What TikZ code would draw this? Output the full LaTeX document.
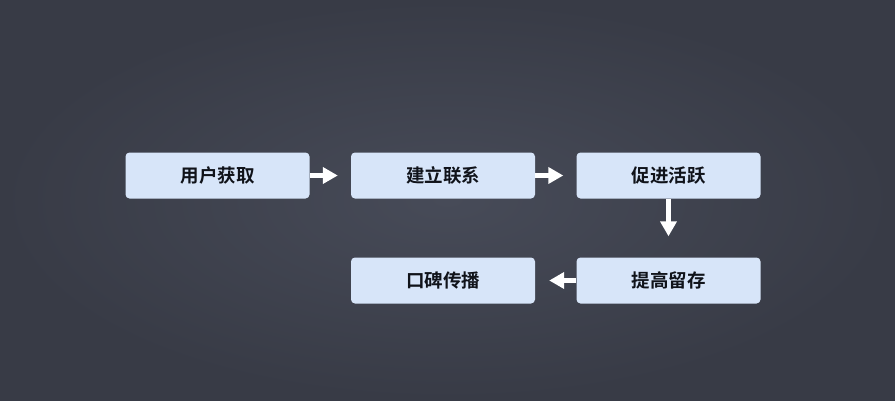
\documentclass[tikz,border=0pt]{standalone}
\usepackage{fontspec}
\newfontfamily\cjk{Noto Sans CJK SC}[BoldFont={Noto Sans CJK SC Bold}]
\usetikzlibrary{arrows.meta}
\definecolor{boardlight}{HTML}{474B58}
\definecolor{boarddark}{HTML}{383B46}
\definecolor{boxfill}{HTML}{D7E5F9}
\definecolor{txt}{HTML}{10131A}
\begin{document}
\begin{tikzpicture}[x=1pt,y=-1pt,
  stagebox/.style={fill=boxfill, rounded corners=4pt, minimum width=184pt, minimum height=46pt, inner sep=0pt, font=\cjk\bfseries\fontsize{18.5}{20}\selectfont, text=txt},
  flow/.style={draw=white, line width=5pt, -{Triangle[length=15pt,width=16pt]}}]
\path[use as bounding box, inner color=boardlight, outer color=boarddark] (0,0) rectangle (895,400);
\node[stagebox] (a) at (217.5,175.5) {用户获取};
\node[stagebox] (b) at (443,175.5) {建立联系};
\node[stagebox] (c) at (668.5,175.5) {促进活跃};
\node[stagebox] (d) at (668.5,280.5) {提高留存};
\node[stagebox] (e) at (443,280.5) {口碑传播};
\draw[flow, shorten >=13pt] (a.east) -- (b.west);
\draw[flow, shorten >=13pt] (b.east) -- (c.west);
\draw[flow, shorten >=21pt] (c.south) -- (d.north);
\draw[flow, shorten >=14pt] (d.west) -- (e.east);
\end{tikzpicture}
\end{document}
